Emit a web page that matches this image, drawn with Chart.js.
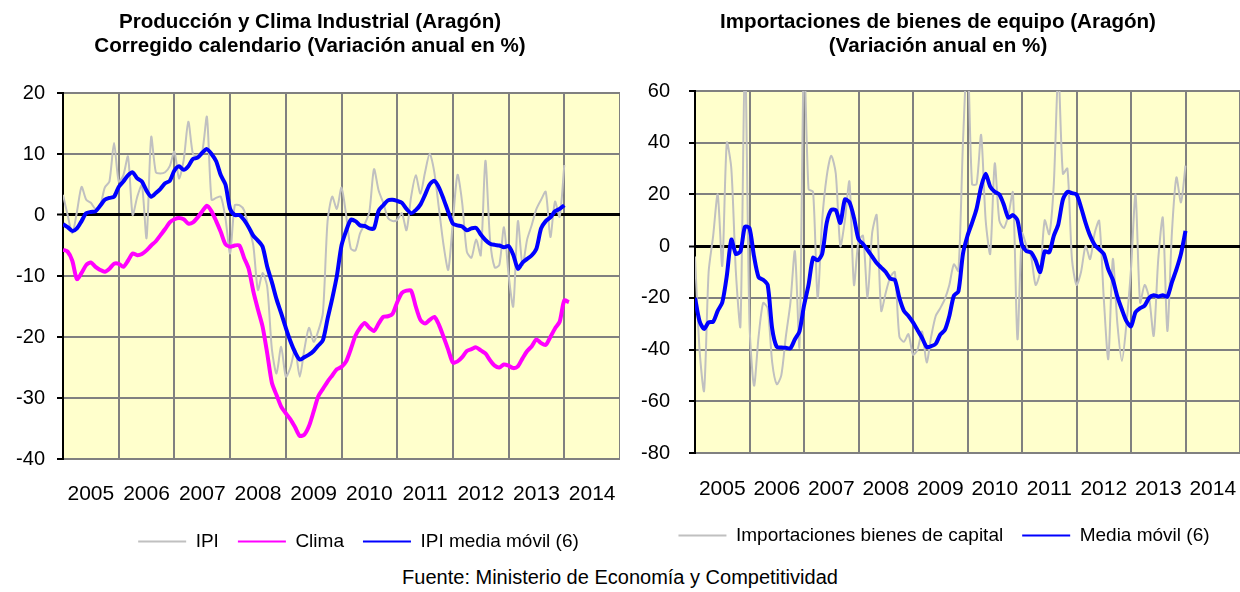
<!DOCTYPE html>
<html>
<head>
<meta charset="utf-8">
<script src="https://cdn.jsdelivr.net/npm/chart.js@4/dist/chart.umd.min.js"></script>
<style>
  body { margin: 0; width: 1240px; height: 592px; overflow: hidden; background: #fff; font-family: "Liberation Sans", Arial, sans-serif; }
  #left { position: absolute; left: 0; top: 0; }
  #right { position: absolute; left: 636px; top: 0; }
  #fuente { position: absolute; left: 0; top: 566px; width: 1240px; text-align: center; font-size: 20px; color: #000; }
</style>
</head>
<body>
<canvas id="left" width="620" height="561"></canvas>
<canvas id="right" width="604" height="555"></canvas>
<div id="fuente">Fuente: Ministerio de Economía y Competitividad</div>
<script>
// monthly series, first value = January 2005
const startYear = 2005;
const years = ['2005', '2006', '2007', '2008', '2009', '2010', '2011', '2012', '2013', '2014'];

const ipi = [
  3.3, 0, -3.0, 0.5, 4.6, 2.5, 2.0, 1.0, 1.5, 4.5, 5.5, 11.8,
  5.5, 6.5, 9.6, 0, 3, 4.9, -3.8, 12.8, 7, 6.8, 7.0, 8,
  10.4, 6.0, 9, 15.3, 10, 9.8, 10.4, 16.1, 2.5, 2.8, 3.0, -0.5,
  -6.3, 1.6, 1.6, 0.8, -2, -5, -12.3, -9.5, -11.8, -22, -26, -21.6,
  -26.5, -25, -22, -26.5, -22, -18.5, -20.8, -19, -16, -1, 3, 1,
  4.5, 0, -5.5, -5.8, -3, -1.5, 0.5, 7.5, 4, 2, -0.5, -1.0,
  -0.8, 0.3, -2.5, 3, 6.5, 3.5, 7, 10.1, 7, 1, -5, -9,
  -1, 6.6, 2, -6, -7, -4, -6.6, 8.9, -4, -8.6, -8.2, -2,
  -9.8, -15, -1, -8.2, -4, -1.6, 1, 2.5, 3.8, -3.6, 2.2, -0.3,
  8.2
];
const clima = [
  -5.7, -6.0, -7.5, -10.5, -9.5, -8.2, -7.8, -8.5, -9.0, -9.3, -8.8, -8.0,
  -8.0, -8.5, -7.5, -6.3, -6.6, -6.4, -5.8, -5.0, -4.3, -3.3, -2.3, -1.2,
  -0.7, -0.5, -0.7, -1.4, -1.2, -0.4, 0.6, 1.5, 0.6, -1.0, -2.8, -4.8,
  -5.2, -5.0, -5.0, -7.0, -8.8, -12.5, -15.5, -18.3, -22.7, -27.5, -29.5, -31.4,
  -32.5, -33.5, -34.8, -36.2, -36.0, -34.6, -32.2, -29.7, -28.5, -27.3, -26.3, -25.3,
  -24.9, -24.0, -22.0, -19.8, -18.5, -17.7, -18.5, -19.0, -17.8, -16.7, -16.6, -16.2,
  -14.3, -12.8, -12.4, -12.4, -15.0, -17.2, -17.8, -17.2, -16.7, -18.0, -20.0, -22.1,
  -24.2, -24.0, -23.3, -22.3, -22.0, -21.7, -22.2, -22.7, -23.8, -24.7, -25.0, -24.5,
  -24.7, -25.1, -24.8, -23.5, -22.3, -21.5, -20.4, -21.0, -21.3, -20.0, -18.6, -17.5,
  -14.0, -14.3
];
const ipiMedia = [
  -1.5, -2.0, -2.6, -2.2, -1.0, 0.3, 0.5, 0.6, 1.5, 2.5, 2.8, 3.0,
  4.6, 5.5, 6.5, 7.0, 6.0, 5.5, 4.0, 3.0, 3.6, 4.3, 5.2, 5.6,
  7.3, 8.0, 7.4, 8.0, 9.2, 9.4, 10.2, 10.8, 10.0, 8.8, 6.5, 5.0,
  1.0, 0, 0, -0.8, -2.0, -3.4, -4.2, -5.2, -8.5, -11, -13.8, -16.1,
  -18.5, -20.7, -22.5, -23.7, -23.3, -22.9, -22.3, -21.4, -20.5, -17, -13.7, -10,
  -5.0, -2.6, -0.8, -1.0, -1.7, -1.8, -2.2, -2.2, 0.7, 1.6, 2.4, 2.5,
  2.3, 2.0, 1.0, 0.3, 0.8, 1.7, 3.3, 5.0, 5.6, 4.5, 2.6, 0.5,
  -1.4, -1.7, -1.9, -2.5, -2.2, -2.1, -3.2, -4.1, -4.7, -4.9, -5.0, -5.3,
  -5.1, -6.5, -8.8, -7.8, -7.2, -6.6, -5.5, -2.2, -1.0, -0.4, 0.6, 1.0,
  1.6
];
const importaciones = [
  -4, -40, -56, -10, 4, 20, -7.6, 40, 30, -10, -31, 75,
  -30, -54, -35, -22, -24, -45, -53.4, -50, -35, -22, -2, -39,
  75, 22, 21, -20, 10, 27, 35, 28, 0, 10, 25, -15,
  2, 4, -20, 5, 12, -25, -18, -12, -10, -35, -37, -34,
  -42, -40, -33, -45, -35, -27, -24, -20.5, -15, -7, -9.6, 40,
  75, 24, 24, 43, 10, -3, 32, 10, 7, 12, 20.8, -36,
  5, 0, -4, -15, -10, 10, 4.6, 24, 68, 28, 30, -5,
  -15, -10, 0, -5, 5, 9.8, -20, -43.7, -5, -30, -44.4, -30,
  -8.9, 20, -21.8, -15, -20, -34.7, -5, 11, -32.8, 5, 26.6, 16.9,
  31.1
];
const importMedia = [
  -20, -29, -32, -29.5, -29.2, -25, -21.8, -11.5, 2.5, -3, -2, 7.5,
  7, -4, -12, -13, -15, -32, -39, -39.2, -39.3, -39.5, -36, -33,
  -23, -15, -4.5, -5.5, -3, 9, 14, 13.9, 9, 18, 17, 11,
  2.7, 0.8, -1.5, -4, -6.5, -8.3, -10, -12.6, -13, -20, -25, -27,
  -29.5, -32.5, -35.5, -39, -38.7, -37.8, -34.2, -32.5, -27, -19.2, -17.5, -3,
  4, 9, 14.5, 23, 28, 23, 21, 20, 16, 11, 12, 10,
  0.5, -2, -2.4, -5.5, -10, -2, -2.4, 4, 8.5, 18, 21, 20.5,
  20, 15, 9, 4, 0.5, -1.2, -3, -9, -13, -19.5, -24.5, -29,
  -31, -25.5, -24, -23, -20, -19, -19.5, -19, -19.5, -14, -9, -3,
  5.9
];

Chart.defaults.font.family = '"Liberation Sans", Arial, sans-serif';
Chart.defaults.color = '#000';

function toPoints(values) {
  return values.map((v, i) => ({ x: startYear + i / 12, y: v }));
}

const plotBackground = {
  id: 'plotBackground',
  beforeDraw(chart) {
    const { ctx, chartArea: a } = chart;
    ctx.save();
    ctx.fillStyle = '#ffffcc';
    ctx.fillRect(a.left, a.top, a.width, a.height);
    ctx.restore();
  }
};

// nudge the legend sideways, the original one is not centred on the canvas
const legendShift = {
  id: 'legendShift',
  afterLayout(chart, args, opts) {
    if (opts.dx && chart.legend) {
      chart.legend.left += opts.dx;
      chart.legend.right += opts.dx;
    }
  }
};

function lineSet(label, values, color, width, order) {
  return {
    label: label,
    data: toPoints(values),
    borderColor: color,
    backgroundColor: color,
    borderWidth: width,
    pointRadius: 0,
    tension: 0.25,
    order: order
  };
}

function makeChart(id, title, datasets, y, layout) {
  return new Chart(document.getElementById(id), {
    type: 'line',
    data: { datasets: datasets },
    plugins: [plotBackground, legendShift],
    options: {
      responsive: false,
      animation: false,
      layout: { padding: 0 },
      scales: {
        x: {
          type: 'linear',
          min: startYear,
          max: startYear + years.length,
          afterFit: s => { s.height = 54; },
          grid: {
            color: c => Number.isInteger(c.tick.value) ? '#808080' : 'rgba(0,0,0,0)',
            lineWidth: 2,
            // invisible tick marks only push the labels down
            drawTicks: true,
            tickLength: layout.xPad,
            tickColor: 'rgba(0,0,0,0)'
          },
          border: { color: '#808080', width: 2 },
          ticks: {
            stepSize: 0.5,
            autoSkip: false,
            maxRotation: 0,
            padding: 0,
            font: { size: 21 },
            callback: v => Number.isInteger(v) ? '' : years[Math.floor(v) - startYear]
          }
        },
        y: {
          min: y.min,
          max: y.max,
          afterFit: s => { s.width = layout.yWidth; },
          grid: {
            color: c => c.tick.value === 0 ? '#000' : '#808080',
            lineWidth: c => c.tick.value === 0 ? 3 : 2,
            tickColor: '#000',
            tickWidth: 2,
            tickLength: 6
          },
          border: { color: '#000', width: 2 },
          ticks: { stepSize: y.step, padding: layout.yPad, font: { size: 20 } }
        }
      },
      plugins: {
        tooltip: { enabled: false },
        legendShift: { dx: layout.legendDx },
        title: {
          display: true,
          text: title,
          font: { size: 20.6, weight: 'bold', lineHeight: 1.165 },
          padding: { top: 10, bottom: layout.titleGap }
        },
        legend: {
          position: 'bottom',
          fullSize: layout.legendFull,
          labels: {
            usePointStyle: true,
            pointStyle: 'line',
            pointStyleWidth: 48,
            padding: 19,
            font: { size: 19 },
            sort: (a, b) => a.datasetIndex - b.datasetIndex,
            generateLabels: chart => Chart.defaults.plugins.legend.labels.generateLabels(chart)
              .map(l => Object.assign(l, { lineWidth: 2 }))
          }
        }
      }
    }
  });
}

makeChart('left',
  ['Producción y Clima Industrial (Aragón)', 'Corregido calendario (Variación anual en %)'],
  [
    lineSet('IPI', ipi, '#c0c0c0', 2, 3),
    lineSet('Clima', clima, '#ff00ff', 4, 2),
    lineSet('IPI media móvil (6)', ipiMedia, '#0000ff', 4, 1)
  ],
  { min: -40, max: 20, step: 10 },
  { yWidth: 63, yPad: 12, xPad: 23, titleGap: 35, legendFull: false, legendDx: 17 }
);

makeChart('right',
  ['Importaciones de bienes de equipo (Aragón)', '(Variación anual en %)'],
  [
    lineSet('Importaciones bienes de capital', importaciones, '#c0c0c0', 2, 2),
    lineSet('Media móvil (6)', importMedia, '#0000ff', 4, 1)
  ],
  { min: -80, max: 60, step: 20 },
  { yWidth: 59, yPad: 19, xPad: 24, titleGap: 33, legendFull: true, legendDx: 6 }
);
</script>
</body>
</html>
